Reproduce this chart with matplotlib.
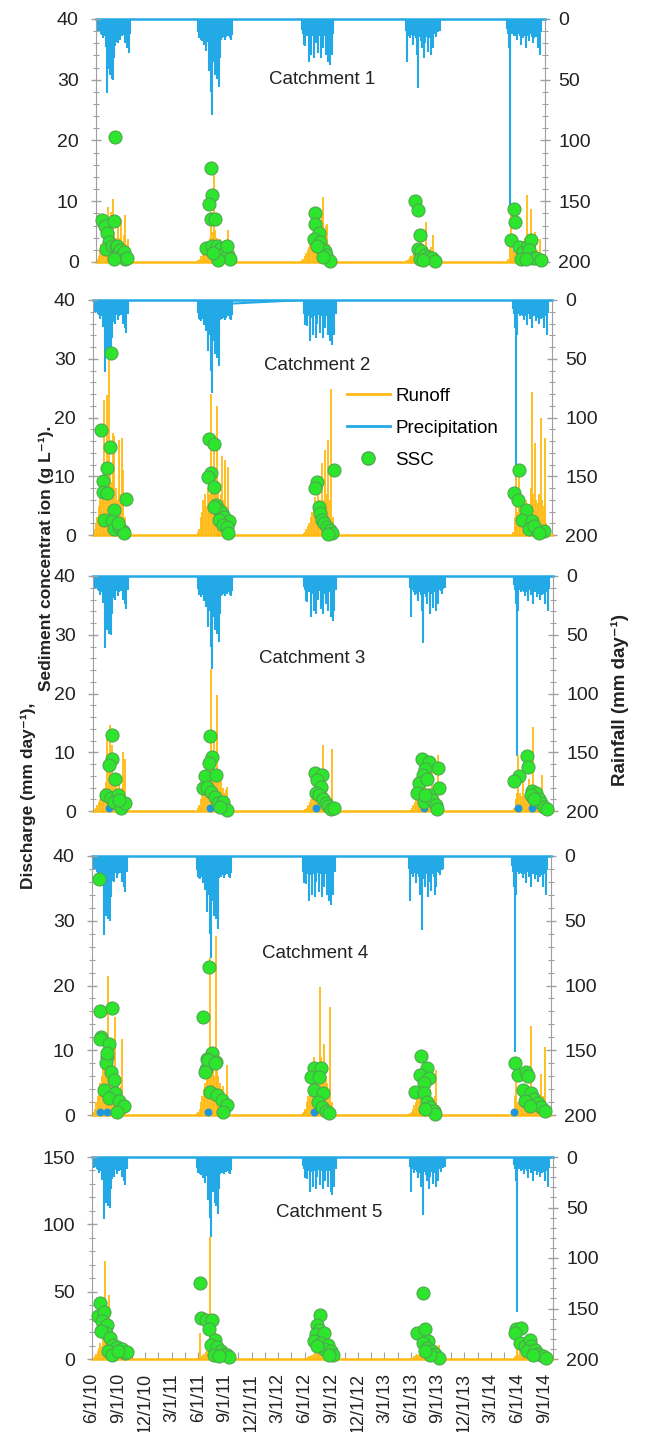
import numpy as np
import pandas as pd
import matplotlib
matplotlib.use('Agg')
import matplotlib.pyplot as plt
import matplotlib.dates as mdates
from matplotlib.ticker import MultipleLocator
from matplotlib.lines import Line2D

plt.rcParams['font.family'] = ['Liberation Sans', 'DejaVu Sans']

# ---------------- data ----------------
SEASON_START = ['2010-06-05', '2011-05-28', '2012-05-27', '2013-05-28', '2014-05-20']
RAIN_STEP = 3      # days between rainfall readings
RUNOFF_STEP = 5    # days between runoff readings

# daily rainfall (mm/day), shared gauge, one list per wet season
rain_2010 = [9, 11, 8, 10, 12, 9, 13, 16, 14, 11, 23, 15, 61, 41, 30, 46, 25, 49, 35, 50,
             32, 22, 19, 14, 20, 12, 13, 17, 11, 14, 10, 13, 9, 20, 11, 24, 9, 28, 8, 12]
rain_2011 = [11, 16, 13, 17, 18, 15, 16, 21, 17, 26, 16, 19, 43, 21, 30, 60, 79, 25, 35, 19,
             46, 22, 49, 25, 56, 32, 17, 14, 16, 12, 15, 17, 14, 15, 12, 14, 11, 16, 17, 13]
rain_2012 = [9, 12, 21, 11, 22, 12, 14, 11, 35, 15, 13, 30, 14, 12, 32, 15, 20, 11, 13, 28,
             14, 10, 32, 15, 12, 24, 14, 11, 30, 13, 14, 35, 12, 38, 14, 30, 11, 12]
rain_2013 = [10, 35, 12, 9, 14, 16, 11, 13, 15, 21, 12, 14, 16, 30, 14, 57, 15, 12, 18, 24,
             12, 14, 32, 20, 11, 15, 27, 14, 12, 16, 30, 14, 24, 12, 10, 13, 15, 9, 11, 8, 10]
rain_2014 = [8, 12, 24, 14, 30, 10, 12, 11, 14, 13, 10, 14, 17, 12, 11, 14, 21, 12, 11, 16,
             14, 10, 24, 12, 14, 11, 18, 12, 10, 15, 20, 11, 16, 14, 15, 11, 24, 12, 14, 30, 11]
rain_seasons = [rain_2010, rain_2011, rain_2012, rain_2013, rain_2014]

storm_2014_day = 10                          # days after 2014 season start
storm_2014_mm = [156, 153, 153, 151, 153]    # catchments 1-5

# catchment 2 gauge: no 2013 record, drifting line between 2011 and 2012
c2_gap_dates = ['2011-09-25', '2012-05-27']
c2_gap_mm = [3, 0]

# runoff (mm/day), one list per season
runoff_c1 = [
    [0.5, 1, 2, 3, 2.5, 4, 3, 5, 9.1, 4, 8.2, 10.3, 5, 4, 3.5, 6, 4, 7.1, 3, 4.5, 7.7, 3, 3.8, 1.5, 0.5],
    [0.3, 0.5, 1, 1.5, 2, 2.5, 2, 3, 4, 8.2, 5, 15.4, 5.2, 4, 3, 3.8, 3.5, 2.5, 2, 3, 3.5, 5.2, 2, 0.5],
    [0.3, 0.5, 1, 1.5, 2, 2.5, 3, 3.5, 4, 7, 5, 4.5, 8, 5, 7.5, 10.7, 5, 6, 6.2, 3, 2, 1, 0.5],
    [0.2, 0.3, 0.5, 0.8, 1, 1.2, 1.5, 1.5, 2, 2.5, 2, 4.4, 3, 2.5, 6.6, 2.5, 2, 1.5, 2.5, 4.5, 1.5, 1, 0.5],
    [0.2, 0.5, 4, 8.2, 2, 1.5, 2, 1.8, 2.5, 3, 2.5, 3.5, 3, 4, 11.1, 3, 2.5, 8.8, 3, 2, 5, 2, 1.5, 3.8, 0.5],
]
runoff_c2 = [
    [1, 2, 3, 5, 7.7, 6, 8, 23, 10, 23.9, 30.4, 12, 9, 17.3, 16.8, 8, 6, 16.2, 7, 16.5, 11, 3, 1],
    [0.5, 1, 3, 4, 6, 7, 5, 8, 7, 24, 9, 16.2, 10, 22, 8, 6, 7, 13.4, 6, 12.8, 5, 11.6, 1],
    [0.3, 0.5, 1, 1.5, 2, 3, 4, 5, 6.5, 5, 7.7, 6, 5, 12.2, 6, 14.5, 7, 16.2, 6, 24.8, 3, 0.5],
    [],
    [0.5, 3, 9.9, 4, 9.9, 3, 3.5, 4, 5, 6, 4.5, 5, 8, 24.4, 7, 15.6, 6, 5.5, 7, 19.9, 6, 5, 16.5, 2],
]
runoff_c3 = [
    [0.3, 0.5, 1, 1.5, 2, 3, 3.5, 4, 5, 13.5, 8, 14.6, 11.2, 6, 5, 4.5, 4, 5, 3, 4, 10.1, 8.9, 2, 0.5],
    [0.5, 1, 2, 3, 4, 5, 6, 5, 8, 24.1, 10, 13.5, 7, 19.7, 6, 5, 6, 4, 3, 3.5, 4.1, 2, 0.5],
    [0.2, 0.3, 0.5, 1, 1.5, 2, 3, 4, 6.6, 4, 7.2, 4, 3, 11.2, 4.5, 3.5, 3, 2.5, 2, 10.6, 1.5, 0.3],
    [0.2, 0.5, 1, 1.5, 2, 3, 5.5, 3, 3.5, 4, 5, 4, 3.5, 3, 4, 6.6, 3, 2.5, 3, 9.5, 2, 1, 0.3],
    [0.5, 2, 3, 9.5, 3, 2.5, 6.6, 2.5, 2, 3, 5.5, 3, 2.5, 14.3, 3, 2.5, 2, 3, 2.5, 6.1, 3, 2, 1.5, 0.5],
]
runoff_c4 = [
    [0.5, 1, 2, 3, 4, 5, 6, 8, 9, 10, 21.5, 9, 8, 7, 6, 15.1, 6, 5, 4, 4.5, 11.8, 2, 0.5],
    [0.3, 0.5, 1, 2, 3, 4, 5, 6, 8, 24.3, 9, 7, 6, 27.6, 8, 6, 5, 4, 4.5, 3.5, 3, 7.7, 0.5],
    [0.3, 0.5, 1, 2, 3, 4, 5, 6, 9, 6, 7, 6, 19.8, 9, 7, 11, 6, 5, 4, 16.7, 2, 0.5],
    [0.2, 0.3, 0.5, 1, 1.5, 2, 3, 2.5, 3, 3.5, 4, 3, 5, 3, 2.5, 4, 2.5, 2, 3, 6.9, 1.5, 1, 0.3],
    [0.3, 1, 3, 9, 2, 2, 3, 2.5, 3, 4, 3.5, 4, 3, 13.8, 4, 3, 3.5, 3, 2.5, 3, 6.4, 3, 2, 10.5],
]
runoff_c5 = [
    [1, 2, 4, 6, 8, 12, 10, 15, 72.8, 12, 10, 47.6, 8, 7, 6, 5, 6, 4, 3, 2.5, 2, 1],
    [0.5, 1, 19.2, 2, 3, 4, 5, 6, 8, 90.8, 12, 10, 26, 8, 6, 5, 4, 4, 3, 2, 1.5, 0.5],
    [0.3, 0.5, 1, 1.5, 2, 2.5, 3, 3.5, 5, 4, 6, 4.5, 3.5, 3, 4, 3, 2.5, 2, 1.5, 1, 0.8, 0.3],
    [0.3, 0.5, 1, 2, 3, 4, 3, 2.5, 3, 2, 2.5, 3, 2, 2.5, 2, 3, 2, 1.5, 2, 1.5, 10.6, 1, 0.3],
    [0.5, 2, 8, 3, 8, 3, 2.5, 3, 4, 3.5, 3, 4, 3, 3.5, 3, 2.5, 4, 3, 2.5, 3, 2, 1.5, 1, 0.5],
]

# suspended sediment concentration (g/L): days after season start, values
ssc_c1_day = [
    [18, 27, 59, 62, 35, 41, 33, 53, 65, 70, 76, 82, 88, 94, 100, 106, 59],
    [45, 49, 38, 45, 59, 26, 47, 65, 76, 85, 94, 106, 112, 70, 53, 100],
    [47, 47, 59, 41, 65, 70, 80, 85, 100, 73, 53],
    [33, 45, 51, 45, 54, 51, 68, 80, 92, 103, 62],
    [26, 28, 14, 43, 55, 73, 85, 79, 49, 90, 102, 120, 67],
]
ssc_c1_val = [
    [6.9, 6.0, 6.7, 20.6, 4.7, 3.3, 2.2, 2.7, 2.5, 2.7, 1.6, 1.9, 1.1, 1.6, 0.5, 0.7, 0.5],
    [15.5, 11, 9.5, 7.1, 7.0, 2.3, 2.7, 2.7, 2.2, 1.1, 1.4, 1.1, 0.5, 0.3, 1.4, 2.7],
    [8.0, 6.2, 4.7, 3.8, 3.3, 2.1, 1.8, 1.1, 0.1, 0.8, 2.7],
    [10.1, 8.6, 4.4, 2.1, 1.8, 0.5, 1.2, 0.8, 0.7, 0.1, 0.4],
    [8.8, 6.6, 3.6, 2.5, 1.6, 2.7, 3.6, 1.9, 0.5, 0.7, 0.6, 0.4, 0.5],
]
ssc_c2_day = [
    [58, 23, 54, 44, 29, 32, 46, 69, 109, 35, 60, 69, 86, 98, 104, 81],
    [40, 58, 46, 35, 58, 63, 75, 84, 92, 109, 72, 86, 100, 104, 58],
    [46, 38, 104, 52, 58, 63, 72, 81, 92, 98, 86],
    [],
    [20, 2, 17, 45, 31, 66, 54, 83, 106, 71, 89],
]
ssc_c2_val = [
    [31, 17.8, 14.9, 11.4, 9.2, 7.4, 7.1, 4.3, 6.1, 2.6, 2.3, 1.1, 1.4, 0.6, 0.3, 2.0],
    [16.3, 15.5, 10.5, 9.8, 8.2, 5.1, 4.3, 3.8, 3.1, 2.4, 2.6, 1.7, 1.3, 0.3, 4.8],
    [9.1, 8.0, 11.1, 4.8, 3.7, 2.6, 2.0, 1.3, 0.9, 0.3, 0.1],
    [],
    [11.1, 7.1, 6.0, 4.3, 2.6, 2.3, 1.1, 0.6, 0.7, 1.5, 0.3],
]
ssc_c3_day = [
    [63, 60, 52, 71, 40, 58, 81, 69, 92, 106, 86],
    [40, 49, 38, 26, 61, 17, 31, 46, 58, 69, 86, 100, 75],
    [38, 63, 46, 58, 40, 52, 66, 75, 84, 92, 104],
    [40, 63, 95, 52, 43, 29, 58, 98, 23, 63, 46, 75, 89, 92, 49],
    [43, 49, 17, 0, 63, 75, 58, 86, 92, 104, 113, 69],
]
ssc_c3_val = [
    [12.9, 8.9, 7.9, 5.5, 2.7, 2.2, 2.7, 1.5, 0.5, 1.4, 1.8],
    [12.7, 9.2, 8.1, 6.0, 6.1, 3.9, 4.1, 3.2, 2.4, 1.4, 1.5, 0.1, 0.7],
    [6.4, 6.1, 5.3, 4.1, 3.1, 2.7, 2.1, 1.4, 0.9, 0.4, 0.5],
    [8.8, 8.4, 7.3, 7.2, 6.1, 4.7, 5.5, 3.9, 3.0, 2.7, 1.5, 1.8, 1.0, 0.3, 2.7],
    [9.4, 7.5, 6.0, 5.1, 3.4, 3.0, 2.7, 2.1, 1.4, 0.7, 0.3, 2.1],
]
ssc_c4_day = [
    [20, 25, 66, 28, 25, 54, 48, 43, 60, 71, 37, 77, 54, 89, 106, 83, 48],
    [44, 21, 52, 37, 67, 32, 40, 63, 29, 46, 69, 86, 104, 92],
    [38, 63, 29, 58, 40, 69, 52, 66, 80, 92],
    [44, 63, 40, 69, 52, 23, 52, 63, 75, 86, 92, 58],
    [10, 20, 48, 54, 37, 66, 77, 89, 100, 112, 43, 60],
]
ssc_c4_val = [
    [36.5, 16.0, 16.6, 12.1, 11.8, 11.0, 9.0, 8.0, 6.7, 5.4, 3.9, 3.4, 2.6, 2.1, 1.4, 0.5, 9.6],
    [22.8, 15.2, 9.6, 8.6, 8.2, 7.1, 8.5, 8.0, 6.7, 3.6, 3.1, 2.3, 1.5, 0.5],
    [7.3, 7.3, 5.9, 5.9, 3.8, 3.4, 2.0, 1.2, 0.6, 0.3],
    [9.1, 7.2, 6.2, 5.7, 4.9, 3.5, 3.4, 2.0, 1.2, 0.6, 0.2, 1.0],
    [8.1, 6.2, 6.7, 6.0, 3.9, 3.4, 2.5, 1.8, 1.2, 0.6, 2.2, 1.4],
]
ssc_c5_day = [
    [23, 15, 38, 31, 49, 43, 26, 58, 69, 81, 98, 109, 115, 52, 63, 86],
    [9, 14, 32, 52, 40, 63, 46, 69, 81, 92, 104, 109, 58, 75],
    [58, 46, 54, 43, 69, 37, 60, 83, 71, 94, 100, 48, 89],
    [44, 25, 52, 63, 46, 58, 75, 86, 98, 69, 52],
    [8, 23, 5, 20, 37, 54, 60, 46, 71, 83, 100, 109, 66],
]
ssc_c5_val = [
    [41.5, 32.3, 34.8, 27.9, 25.4, 19.2, 20.5, 15.5, 10.6, 8.6, 7.6, 4.4, 5.2, 5.7, 3.2, 5.7],
    [56.3, 30.8, 29.1, 29.1, 22.5, 14.3, 10.6, 8.6, 5.7, 3.7, 2.7, 1.2, 3.2, 2.0],
    [32.8, 25.4, 21.7, 18.5, 19.2, 13.1, 11.8, 10.6, 7.6, 5.7, 3.2, 9.4, 2.7],
    [48.9, 19.2, 22.5, 13.6, 11.8, 8.1, 5.7, 3.7, 0.7, 3.2, 5.7],
    [22.5, 22.9, 19.2, 11.8, 9.4, 14.3, 9.4, 5.7, 6.9, 3.7, 2.0, 0.7, 3.2],
]

# small blue markers sitting on the x axis (catchments 3 and 4)
blue_c3_day = [[52], [40], [40], [46], [12, 63]]
blue_c4_day = [[25, 48], [40], [40], [], [8]]
BLUE_MARK_VAL = 0.5

catchments = ['Catchment 1', 'Catchment 2', 'Catchment 3', 'Catchment 4', 'Catchment 5']
runoff_all = [runoff_c1, runoff_c2, runoff_c3, runoff_c4, runoff_c5]
ssc_day_all = [ssc_c1_day, ssc_c2_day, ssc_c3_day, ssc_c4_day, ssc_c5_day]
ssc_val_all = [ssc_c1_val, ssc_c2_val, ssc_c3_val, ssc_c4_val, ssc_c5_val]
blue_day_all = [None, None, blue_c3_day, blue_c4_day, None]
left_max = [40, 40, 40, 40, 150]

X_START = pd.Timestamp('2010-06-01')
X_END = pd.Timestamp('2014-10-01')
tick_dates = pd.date_range('2010-06-01', '2014-09-01', freq='3MS')
tick_labels = [f"{d.month}/{d.day}/{d.year % 100}" for d in tick_dates]

# ---------------- style / layout ----------------
ORANGE = '#FFBA12'
BLUE = '#22A9E6'
GREEN = '#2DE52D'
GREEN_EDGE = '#4FA84F'
GRAY = '#A0A0A0'
TXT = '#222222'

W, H = 646, 1432
# left, top, right, bottom in pixels
boxes_px = [(96, 19, 545, 262), (93, 300, 552, 535), (93, 576, 553, 811),
            (92, 856, 551, 1115), (92, 1157, 553, 1359)]
label_pos = [(0.503, 0.753), (0.488, 0.723), (0.477, 0.651), (0.486, 0.625), (0.514, 0.723)]


def season_dates(i, offsets):
    d = pd.Timestamp(SEASON_START[i]) + pd.to_timedelta(np.asarray(offsets, dtype=float), unit='D')
    return mdates.date2num(d.to_numpy())


fig = plt.figure(figsize=(W / 100, H / 100), dpi=100)
fig.patch.set_facecolor('white')

for k in range(5):
    l, t, r, b = boxes_px[k]
    ax = fig.add_axes([l / W, 1 - b / H, (r - l) / W, (b - t) / H])
    tw = ax.twinx()
    ax.set_zorder(tw.get_zorder() + 1)
    ax.patch.set_visible(False)

    # rainfall, hanging from the top
    for i, rr in enumerate(rain_seasons):
        if k == 1 and i == 3:
            continue
        x = season_dates(i, np.arange(len(rr)) * RAIN_STEP)
        tw.vlines(x, 0, rr, color=BLUE, lw=1.5)
    tw.vlines(season_dates(4, [storm_2014_day]), 0, storm_2014_mm[k], color=BLUE, lw=1.5)
    tw.axhline(0, color=BLUE, lw=1.8, clip_on=False)
    if k == 1:
        tw.plot(mdates.date2num(pd.to_datetime(c2_gap_dates).to_numpy()), c2_gap_mm,
                color=BLUE, lw=1.5)
    tw.set_ylim(200, 0)

    # runoff
    for i, ro in enumerate(runoff_all[k]):
        if len(ro) == 0:
            continue
        x = season_dates(i, np.arange(len(ro)) * RUNOFF_STEP)
        ax.vlines(x, 0, ro, color=ORANGE, lw=1.3)
    ax.axhline(0, color=ORANGE, lw=1.8, clip_on=False)

    # small blue markers
    if blue_day_all[k] is not None:
        for i, dd in enumerate(blue_day_all[k]):
            if len(dd) == 0:
                continue
            ax.scatter(season_dates(i, dd), [BLUE_MARK_VAL] * len(dd), s=22,
                       color='#1E96DC', zorder=3, clip_on=False)

    # SSC points
    for i in range(5):
        dd = ssc_day_all[k][i]
        if len(dd) == 0:
            continue
        ax.scatter(season_dates(i, dd), ssc_val_all[k][i], s=88, facecolor=GREEN,
                   edgecolor=GREEN_EDGE, linewidth=0.8, zorder=4, clip_on=False)

    ax.set_xlim(mdates.date2num(X_START), mdates.date2num(X_END))
    ax.set_ylim(0, left_max[k])

    # axes cosmetics
    for s in ['top', 'bottom', 'right']:
        ax.spines[s].set_visible(False)
    for s in ['top', 'bottom', 'left']:
        tw.spines[s].set_visible(False)
    ax.spines['left'].set_color(GRAY)
    tw.spines['right'].set_color(GRAY)

    if k < 4:
        ax.yaxis.set_major_locator(MultipleLocator(10))
        ax.yaxis.set_minor_locator(MultipleLocator(2))
    else:
        ax.yaxis.set_major_locator(MultipleLocator(50))
        ax.yaxis.set_minor_locator(MultipleLocator(10))
    tw.yaxis.set_major_locator(MultipleLocator(50))
    tw.yaxis.set_minor_locator(MultipleLocator(10))

    for a in (ax, tw):
        a.tick_params(axis='y', which='major', direction='inout', length=7, width=1,
                      color=GRAY, labelsize=14, labelcolor=TXT)
        a.tick_params(axis='y', which='minor', direction='inout', length=4, width=0.8,
                      color=GRAY)
    ax.tick_params(axis='y', pad=9)
    tw.tick_params(axis='y', pad=6)

    if k == 4:
        ax.set_xticks(mdates.date2num(tick_dates.to_numpy()))
        ax.set_xticklabels(tick_labels, rotation=90, fontsize=13, color=TXT)
        mids = tick_dates[:-1] + (tick_dates[1:] - tick_dates[:-1]) / 2
        ax.set_xticks(mdates.date2num(pd.DatetimeIndex(mids).to_numpy()), minor=True)
        ax.tick_params(axis='x', which='both', direction='in', length=5, width=0.8,
                       color=GRAY, pad=10)
    else:
        ax.tick_params(axis='x', which='both', bottom=False, labelbottom=False)

    ax.text(label_pos[k][0], label_pos[k][1], catchments[k], transform=ax.transAxes,
            ha='center', va='center', fontsize=13.5, color=TXT, zorder=5)

    if k == 1:
        handles = [Line2D([], [], color=ORANGE, lw=2, label='Runoff'),
                   Line2D([], [], color=BLUE, lw=2, label='Precipitation'),
                   Line2D([], [], ls='none', marker='o', ms=9.5, mfc=GREEN,
                          mec=GREEN_EDGE, label='SSC')]
        ax.legend(handles=handles, loc='upper left', bbox_to_anchor=(0.553, 0.627),
                  frameon=False, fontsize=13.5, handlelength=2.3, handletextpad=0.3,
                  labelspacing=0.8, borderpad=0, borderaxespad=0)

# axis titles
fig.text(46 / W, 1 - 558 / H, 'Sediment concentrat ion (g L⁻¹).', rotation=90,
         ha='center', va='center', fontsize=12.5, fontweight='bold', color=TXT)
fig.text(28 / W, 1 - 796 / H, 'Discharge (mm day⁻¹),', rotation=90,
         ha='center', va='center', fontsize=12.5, fontweight='bold', color=TXT)
fig.text(620 / W, 1 - 700 / H, 'Rainfall (mm day⁻¹)', rotation=90,
         ha='center', va='center', fontsize=13.5, fontweight='bold', color=TXT)

fig.savefig('out.png', dpi=100)
